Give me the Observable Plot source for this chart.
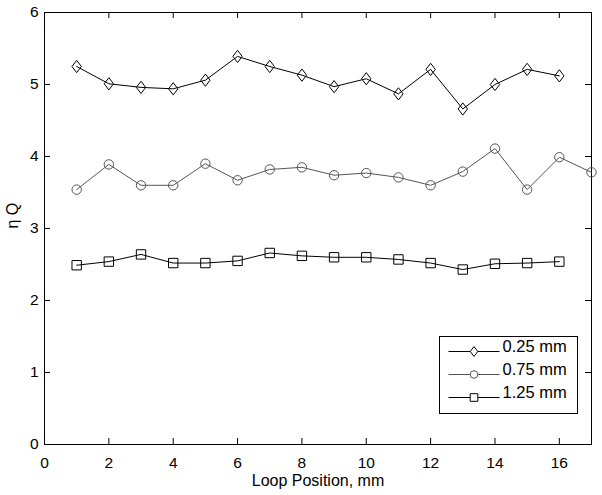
<!DOCTYPE html>
<html><head><meta charset="utf-8">
<script src="https://cdn.jsdelivr.net/npm/d3@7"></script>
<script src="https://cdn.jsdelivr.net/npm/@observablehq/plot@0.6"></script>
<style>
body{margin:0;background:#fff;}
#chart{width:602px;height:495px;}
</style></head><body><div id="chart"></div>
<script>
// ---- data ----
const positions16 = [1,2,3,4,5,6,7,8,9,10,11,12,13,14,15,16];
const positions17 = [1,2,3,4,5,6,7,8,9,10,11,12,13,14,15,16,17];
const eta025 = [5.25,5.01,4.96,4.94,5.06,5.39,5.25,5.13,4.97,5.08,4.87,5.21,4.66,5.00,5.21,5.12];
const eta075 = [3.54,3.89,3.60,3.60,3.90,3.67,3.82,3.85,3.74,3.77,3.71,3.60,3.79,4.11,3.54,3.99,3.78];
const eta125 = [2.49,2.54,2.64,2.52,2.52,2.55,2.66,2.62,2.60,2.60,2.57,2.52,2.43,2.51,2.52,2.54];
const seriesNames = ["0.25 mm","0.75 mm","1.25 mm"];
const xTicks = [0,2,4,6,8,10,12,14,16];
const yTicks = [0,1,2,3,4,5,6];
const xLabel = "Loop Position, mm";
const yLabel = "η Q";

// ---- symbols (MATLAB-like) ----
const diamond = {draw(ctx, size){ const s = Math.sqrt(size/Math.PI); const w = s, h = s*1.3;
  ctx.moveTo(0,-h); ctx.lineTo(w,0); ctx.lineTo(0,h); ctx.lineTo(-w,0); ctx.closePath(); }};
const square = {draw(ctx, size){ const s = Math.sqrt(size/Math.PI); ctx.rect(-s,-s,2*s,2*s); }};
const circle = {draw(ctx, size){ const s = Math.sqrt(size/Math.PI); ctx.moveTo(s,0); ctx.arc(0,0,s,0,2*Math.PI); }};
const hline = {draw(ctx, size){ ctx.moveTo(-25.5,0); ctx.lineTo(25.5,0); }};

const series = [
  {name: seriesNames[0], xs: positions16, ys: eta025, color: "#000", symbol: diamond},
  {name: seriesNames[1], xs: positions17, ys: eta075, color: "#555", symbol: circle},
  {name: seriesNames[2], xs: positions16, ys: eta125, color: "#000", symbol: square}
];

const W = 602, H = 495, mL = 44, mT = 12, mR = 11, mB = 51;
const frameH = H - mT - mB, frameW = W - mL - mR, tickLen = 6;
const fontFamily = "'Liberation Sans', Arial, sans-serif";

const marks = [];
for (const s of series) {
  const rows = s.xs.map((x, i) => ({x, y: s.ys[i]}));
  marks.push(Plot.line(rows, {x: "x", y: "y", stroke: s.color, strokeWidth: 1}));
  marks.push(Plot.dot(rows, {x: "x", y: "y", symbol: s.symbol, r: 4.7, stroke: s.color, fill: "none", strokeWidth: 1}));
}

// legend
const rowDy = [-93, -70, -47];
const legendMarks = [
  Plot.frame({insetLeft: 395, insetTop: 324, insetRight: 14, insetBottom: 31, stroke: "#000", fill: "#fff"})
];
series.forEach((s, i) => {
  legendMarks.push(Plot.dot([s.name], {frameAnchor: "bottom-right", dx: -117.5, dy: rowDy[i], symbol: hline, stroke: s.color, strokeWidth: 1}));
  legendMarks.push(Plot.dot([s.name], {frameAnchor: "bottom-right", dx: -117.5, dy: rowDy[i], symbol: s.symbol, r: 3.8, stroke: s.color, fill: "#fff", strokeWidth: 1}));
  legendMarks.push(Plot.text([s.name], {frameAnchor: "bottom-right", dx: -89, dy: rowDy[i], text: d => d, textAnchor: "start", fill: "#000", fontSize: 16.5}));
});

const chart = Plot.plot({
  width: W, height: H,
  marginLeft: mL, marginTop: mT, marginRight: mR, marginBottom: mB,
  style: {fontFamily, fontSize: "15px", color: "#000", background: "#fff"},
  x: {domain: [0, 17]},
  y: {domain: [0, 6]},
  marks: [
    Plot.frame({stroke: "#000"}),
    Plot.tickX(xTicks, {x: d => d, insetTop: frameH - tickLen, stroke: "#000"}),
    Plot.tickX(xTicks, {x: d => d, insetBottom: frameH - tickLen, stroke: "#000"}),
    Plot.tickY(yTicks, {y: d => d, insetRight: frameW - tickLen, stroke: "#000"}),
    Plot.tickY(yTicks, {y: d => d, insetLeft: frameW - tickLen, stroke: "#000"}),
    Plot.axisX(xTicks, {tickSize: 0, tickPadding: 12, label: null, fontSize: 15.5, tickFormat: d => String(d)}),
    Plot.axisY(yTicks, {tickSize: 0, tickPadding: 6, label: null, fontSize: 15.5, tickFormat: d => String(d)}),
    Plot.text([xLabel], {frameAnchor: "bottom", dy: 41, text: d => d, fontSize: 16}),
    Plot.text([yLabel], {frameAnchor: "left", dx: -32, rotate: -90, text: d => d, fontSize: 16}),
    ...marks,
    ...legendMarks
  ]
});
document.getElementById("chart").appendChild(chart);
</script>
</body></html>
